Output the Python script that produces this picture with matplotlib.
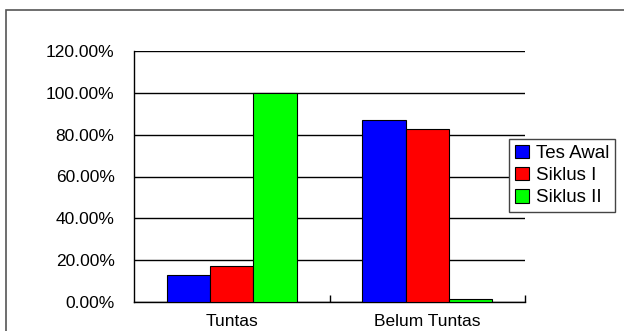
import matplotlib
matplotlib.use("Agg")
import matplotlib.pyplot as plt
from matplotlib.patches import Rectangle, Patch
import numpy as np

categories = ["Tuntas", "Belum Tuntas"]
series_names = ["Tes Awal", "Siklus I", "Siklus II"]
tes_awal = [13.04, 86.96]
siklus_1 = [17.39, 82.61]
siklus_2 = [100.0, 1.2]
colors = ["#0000FF", "#FF0000", "#00FF00"]
yticks = [0, 20, 40, 60, 80, 100, 120]

plt.rcParams['font.family'] = ['Liberation Sans', 'DejaVu Sans']

W, H = 624, 331
fig = plt.figure(figsize=(W/100, H/100), dpi=100)
fig.patch.set_facecolor("white")

# outer chart-area frame
fig.add_artist(Rectangle((6/W, -0.2), 1.2, 1.2 - 10/H, transform=fig.transFigure,
                         fill=False, edgecolor="#555555", linewidth=1.2, clip_on=False))

L, R, T, B = 134, 525, 51, 302
ax = fig.add_axes([L/W, (H-B)/H, (R-L)/W, (B-T)/H])

x = np.arange(len(categories))
w = 0.2225
for i, (vals, c) in enumerate(zip([tes_awal, siklus_1, siklus_2], colors)):
    ax.bar(x + (i-1)*w, vals, w, color=c, edgecolor="black", linewidth=0.8,
           label=series_names[i], zorder=3)

ax.set_xlim(-0.5, 1.5)
ax.set_ylim(0, 120)
ax.set_yticks(yticks)
ax.set_yticklabels([f"{v:.2f}%" for v in yticks], fontsize=12.5)
ax.set_xticks(x)
ax.set_xticklabels(categories, fontsize=12.5)
ax.tick_params(axis='x', length=0, pad=9)
ax.tick_params(axis='y', length=0, pad=14)
ax.set_xticks([0.5, 1.5], minor=True)
ax.tick_params(axis='x', which='minor', direction='in', length=5, width=1, color='black')
ax.yaxis.grid(True, color="black", linewidth=1.0, zorder=0)
ax.set_axisbelow(True)
for s in ["top", "right"]:
    ax.spines[s].set_visible(False)
ax.spines["left"].set_linewidth(1.0)
ax.spines["bottom"].set_linewidth(1.0)

handles = [Patch(facecolor=c, edgecolor="black", linewidth=0.8) for c in colors]
leg = fig.legend(handles, series_names, loc="upper left",
                 bbox_to_anchor=(509/W, 1 - 139/H), bbox_transform=fig.transFigure,
                 fontsize=13.5, frameon=True, fancybox=False, framealpha=1,
                 edgecolor="#444444", handlelength=0.75, handleheight=0.75,
                 handletextpad=0.4, labelspacing=0.25, borderpad=0.3, borderaxespad=0)
leg.get_frame().set_linewidth(1.0)

fig.savefig("out.png", dpi=100)
